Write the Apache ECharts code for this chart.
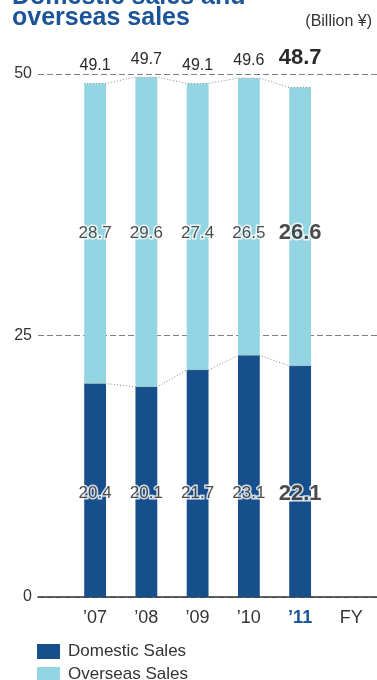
<!DOCTYPE html>
<html>
<head>
<meta charset="utf-8">
<title>Domestic sales and overseas sales</title>
<script src="https://cdn.jsdelivr.net/npm/echarts@6/dist/echarts.min.js"></script>
<style>
  html, body { margin: 0; padding: 0; background: #fff; }
  #chart { width: 377px; height: 680px; }
</style>
</head>
<body>
<div id="chart"></div>
<script>
// Fiscal years and sales (billion yen)
const years = ['’07', '’08', '’09', '’10', '’11'];
const axisCategories = [...years, 'FY'];
const domestic = [20.4, 20.1, 21.7, 23.1, 22.1];
const overseas = [28.7, 29.6, 27.4, 26.5, 26.6];
const yTickValues = [0, 25, 50];
const titleLines = ['Domestic sales and', 'overseas sales'];

const totals = domestic.map((d, i) => +(d + overseas[i]).toFixed(1));
const LATEST = years.length - 1;

const FONT = "'Liberation Sans', Arial, Helvetica, sans-serif";
const DARK_BLUE = '#174f8d';
const LIGHT_BLUE = '#93d5e2';
const TITLE_BLUE = '#1b5597';
const TEXT = '#1e1e1e';

// bar width as a fraction of a category band
const BAR_FRAC = 0.426;
const HALF = BAR_FRAC / 2;

// fixed heights (in axis units) at which the in-bar value labels sit
const DOM_LABEL_AT = 9.9;
const OVS_LABEL_AT = 34.8;

// dotted connector running across each bar top and on to the next bar
function edgePoints(vals) {
  const pts = [];
  vals.forEach((v, i) => { pts.push([i - HALF, v]); pts.push([i + HALF, v]); });
  return pts;
}

const fmt = v => v.toFixed(1);

function valueLabel(i, size) {
  const latest = i === LATEST;
  return {
    fontSize: latest ? 22 : size,
    fontWeight: latest ? 'bold' : 'normal'
  };
}

const titleStyle = { fontFamily: FONT, fontSize: 25, fontWeight: 'bold', color: TITLE_BLUE };

const chart = echarts.init(document.getElementById('chart'), null, { renderer: 'canvas' });

const option = {
  animation: false,
  backgroundColor: '#fff',
  textStyle: { fontFamily: FONT },
  title: [
    { text: titleLines[0], left: 12, top: -15, padding: 0, textStyle: titleStyle },
    { text: titleLines[1], left: 12, top: 6, padding: 0, textStyle: titleStyle },
    {
      text: '(Billion ¥)',
      right: 5,
      top: 14,
      padding: 0,
      textStyle: { fontFamily: FONT, fontSize: 16, fontWeight: 'normal', color: '#333' }
    }
  ],
  legend: {
    orient: 'vertical',
    left: 37,
    top: 643,
    height: 60,
    padding: 0,
    itemWidth: 23,
    itemHeight: 15,
    itemGap: 6,
    icon: 'rect',
    selectedMode: false,
    data: ['Domestic Sales', 'Overseas Sales'],
    textStyle: { fontFamily: FONT, fontSize: 17, color: '#333', padding: [0, 0, 0, 3] }
  },
  grid: [
    // frame: y scale, dashed guides and baseline
    { left: 38, right: 0, top: 74, bottom: 83 },
    // bars, one band per fiscal year
    { left: 69.5, width: 324, top: 74, bottom: 83 }
  ],
  xAxis: [
    {
      gridIndex: 0, type: 'value', min: 0, max: 1,
      axisLine: { show: true, lineStyle: { color: '#333', width: 1.6 } },
      axisTick: { show: false }, axisLabel: { show: false }, splitLine: { show: false }
    },
    {
      gridIndex: 1, type: 'category', data: axisCategories.map((c, i) => i === LATEST
        ? { value: c, textStyle: { fontWeight: 'bold', color: TITLE_BLUE } }
        : c),
      axisLine: { show: false }, axisTick: { show: false },
      axisLabel: { fontFamily: FONT, fontSize: 18, color: '#333', margin: 12, interval: 0 }
    },
    {
      gridIndex: 1, type: 'value', min: -0.5, max: axisCategories.length - 0.5, show: false
    }
  ],
  yAxis: [
    {
      gridIndex: 0, type: 'value', min: yTickValues[0], max: yTickValues[yTickValues.length - 1],
      interval: yTickValues[1] - yTickValues[0],
      axisLine: { show: false }, axisTick: { show: false },
      axisLabel: { fontFamily: FONT, fontSize: 16, color: '#333', margin: 6 },
      splitLine: { show: true, lineStyle: { color: '#808080', type: [6, 3], width: 1 } }
    },
    {
      gridIndex: 1, type: 'value', min: yTickValues[0], max: yTickValues[yTickValues.length - 1], show: false
    }
  ],
  series: [
    {
      name: 'Domestic Sales', type: 'bar', xAxisIndex: 1, yAxisIndex: 1, stack: 'sales',
      barWidth: (BAR_FRAC * 100) + '%', itemStyle: { color: DARK_BLUE }, z: 2,
      data: domestic
    },
    {
      name: 'Overseas Sales', type: 'bar', xAxisIndex: 1, yAxisIndex: 1, stack: 'sales',
      barWidth: (BAR_FRAC * 100) + '%', itemStyle: { color: LIGHT_BLUE }, z: 2,
      data: overseas.map((v, i) => ({
        value: v,
        label: Object.assign({ distance: i === LATEST ? 19 : 10 }, valueLabel(i, 16))
      })),
      label: {
        show: true, position: 'top', color: '#2a2a2a', fontFamily: FONT,
        textBorderColor: '#fff', textBorderWidth: 3,
        formatter: p => fmt(totals[p.dataIndex])
      }
    },
    {
      name: 'total-link', type: 'line', xAxisIndex: 2, yAxisIndex: 1, z: 3,
      symbol: 'none', silent: true,
      lineStyle: { color: '#8a8a8a', width: 1, type: [1, 2] },
      data: edgePoints(totals)
    },
    {
      name: 'domestic-link', type: 'line', xAxisIndex: 2, yAxisIndex: 1, z: 3,
      symbol: 'none', silent: true,
      lineStyle: { color: '#8a8a8a', width: 1, type: [1, 2] },
      data: edgePoints(domestic)
    },
    {
      name: 'domestic-values', type: 'scatter', xAxisIndex: 1, yAxisIndex: 1, z: 4,
      symbolSize: 0, silent: true,
      data: domestic.map((v, i) => ({ value: [i, DOM_LABEL_AT], label: valueLabel(i, 17) })),
      label: {
        show: true, position: 'inside', color: TEXT, fontFamily: FONT,
        textBorderColor: '#fff', textBorderWidth: 3,
        formatter: p => fmt(domestic[p.dataIndex])
      }
    },
    {
      name: 'overseas-values', type: 'scatter', xAxisIndex: 1, yAxisIndex: 1, z: 4,
      symbolSize: 0, silent: true,
      data: overseas.map((v, i) => ({ value: [i, OVS_LABEL_AT], label: valueLabel(i, 17) })),
      label: {
        show: true, position: 'inside', color: TEXT, fontFamily: FONT,
        textBorderColor: '#fff', textBorderWidth: 3,
        formatter: p => fmt(overseas[p.dataIndex])
      }
    }
  ]
};

chart.setOption(option);
</script>
</body>
</html>
